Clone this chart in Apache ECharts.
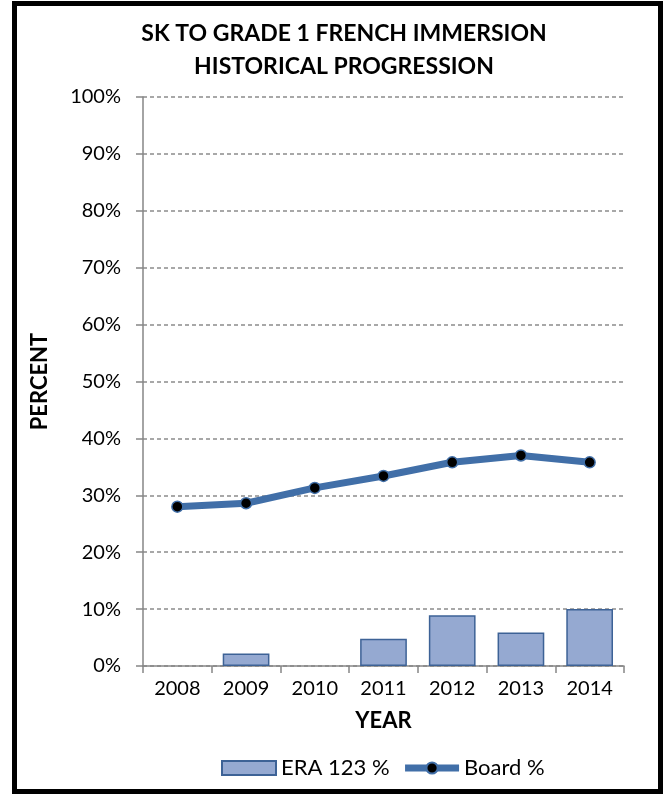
<!DOCTYPE html>
<html>
<head>
<meta charset="utf-8">
<script src="https://cdn.jsdelivr.net/npm/echarts@6/dist/echarts.min.js"></script>
<style>
html,body{margin:0;padding:0;background:#fff;}
#chart{position:absolute;left:0;top:0;width:663px;height:794px;}
#frame{position:absolute;left:12px;top:1px;width:651px;height:793px;box-sizing:border-box;border:5px solid #000;pointer-events:none;}
</style>
</head>
<body>
<div id="chart"></div>
<div id="frame"></div>
<script>
const years = ['2008','2009','2010','2011','2012','2013','2014'];
const eraValues = [null, 2.2, null, 4.8, 8.9, 5.9, 10.0];
const boardValues = [28.0, 28.6, 31.3, 33.4, 35.8, 37.0, 35.8];
const titleLines = ['SK TO GRADE 1 FRENCH IMMERSION', 'HISTORICAL PROGRESSION'];

const FONT = 'Lato';
const LINE_COLOR = '#416FA8';
const chart = echarts.init(document.getElementById('chart'));
chart.setOption({
  animation: false,
  textStyle: { fontFamily: FONT },
  title: {
    text: titleLines.join('\n'),
    left: 339,
    top: 12,
    textAlign: 'center',
    textStyle: { fontFamily: FONT, fontSize: 23, fontWeight: 'bold', color: '#000', lineHeight: 33 }
  },
  legend: {
    top: 752,
    left: 216,
    itemWidth: 54,
    itemHeight: 14,
    itemGap: 12,
    textStyle: { fontFamily: FONT, fontSize: 22, color: '#000' },
    data: [
      { name: 'ERA 123 %', icon: 'rect' },
      { name: 'Board %', lineStyle: { width: 7, color: LINE_COLOR } }
    ]
  },
  grid: { left: 143, right: 39, top: 97, bottom: 128 },
  xAxis: {
    type: 'category',
    data: years,
    name: 'YEAR',
    nameLocation: 'middle',
    nameGap: 44,
    nameTextStyle: { fontFamily: FONT, fontSize: 22, fontWeight: 'bold', color: '#000' },
    axisLine: { lineStyle: { color: '#868686', width: 1.5 } },
    axisTick: { show: true, alignWithLabel: false, length: 7, lineStyle: { color: '#868686', width: 1.5 } },
    axisLabel: { fontFamily: FONT, fontSize: 20, color: '#000', margin: 13 }
  },
  yAxis: {
    type: 'value',
    min: 0,
    max: 100,
    interval: 10,
    name: 'PERCENT',
    nameLocation: 'middle',
    nameRotate: 90,
    nameGap: 92,
    nameTextStyle: { fontFamily: FONT, fontSize: 22, fontWeight: 'bold', color: '#000' },
    axisLine: { show: true, lineStyle: { color: '#868686', width: 1.5 } },
    axisTick: { show: true, length: 7, lineStyle: { color: '#868686', width: 1.5 } },
    axisLabel: { formatter: '{value}%', fontFamily: FONT, fontSize: 20, color: '#000', margin: 22 },
    splitLine: { show: true, lineStyle: { color: '#8c8c8c', type: [4, 3], width: 1.5 } }
  },
  series: [
    {
      name: 'ERA 123 %',
      type: 'bar',
      data: eraValues,
      barWidth: '68%',
      itemStyle: { color: '#95A9D1', borderColor: '#3D6296', borderWidth: 1.5 }
    },
    {
      name: 'Board %',
      type: 'line',
      data: boardValues,
      symbol: 'circle',
      symbolSize: 11,
      lineStyle: { color: LINE_COLOR, width: 7 },
      itemStyle: { color: '#000', borderColor: LINE_COLOR, borderWidth: 1.5 },
      z: 5
    }
  ]
});
</script>
</body>
</html>
